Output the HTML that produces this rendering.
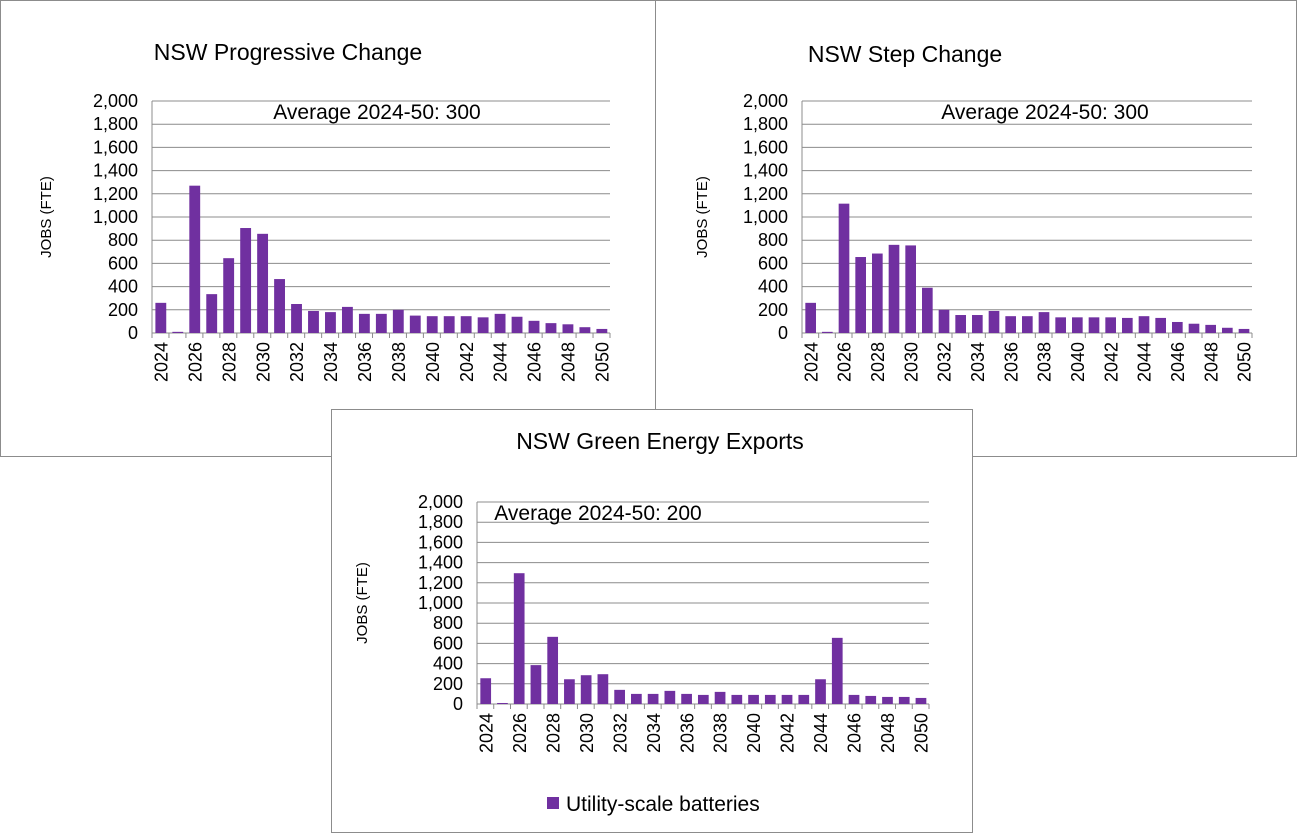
<!DOCTYPE html>
<html><head><meta charset="utf-8"><style>
body{margin:0;background:#fff;font-family:"Liberation Sans",sans-serif}
svg{display:block}
</style></head><body>
<svg id="s" width="1297" height="834"></svg>
<script>
const years = [];
for (let y = 2024; y <= 2050; y++) years.push(y);
const yTicks = [0,200,400,600,800,1000,1200,1400,1600,1800,2000];
const progressiveValues = [260,10,1270,335,645,905,855,465,250,190,180,225,165,165,200,150,145,145,145,135,165,140,105,85,75,50,35];
const stepValues = [260,10,1115,655,685,760,755,390,200,155,155,190,145,145,180,135,135,135,135,130,145,130,95,80,70,45,35];
const exportValues = [255,10,1295,385,665,245,285,295,140,100,100,130,100,90,120,90,90,90,90,90,245,655,90,80,70,70,60];

const NS = "http://www.w3.org/2000/svg";
const svg = document.getElementById('s');
function mk(tag, attrs, parent, text){
  const e = document.createElementNS(NS, tag);
  for (const k in attrs) e.setAttribute(k, attrs[k]);
  if (text !== undefined) e.textContent = text;
  (parent || svg).appendChild(e);
  return e;
}
function fmt(v){ return v.toLocaleString('en-US'); }

const panels = [
  {name:'progressive', box:[0.5,0.5,655,456], title:'NSW Progressive Change', tx:288, ty:60, x0:152, x1:610, y0:101, y1:333, avg:'Average  2024-50: 300', ax:377, ay:119, ytx:51, vals:progressiveValues},
  {name:'step', box:[655.5,0.5,641,456], title:'NSW Step Change', tx:905, ty:62, x0:802, x1:1252, y0:101, y1:333, avg:'Average  2024-50: 300', ax:1045, ay:119, ytx:707, vals:stepValues},
  {name:'exports', box:[331.5,409.5,641,423], title:'NSW Green Energy Exports', tx:660, ty:449, x0:477, x1:929, y0:502, y1:704, avg:'Average  2024-50: 200', ax:598, ay:520, ytx:367, vals:exportValues}
];

panels.forEach(p => {
  const g = mk('g', {});
  
  
  const r = mk('rect', {x:p.box[0], y:p.box[1], width:p.box[2], height:p.box[3], fill:'#fff', stroke:'#8c8c8c', 'stroke-width':1}, g);
  
  
  const t = mk('text', {x:p.tx, y:p.ty, 'text-anchor':'middle', 'font-size':23, fill:'#000'}, g, p.title);
  
  
  const ys = v => p.y1 - (v/2000)*(p.y1-p.y0);
  yTicks.forEach(v => {
    if (v > 0) mk('line', {x1:p.x0, x2:p.x1, y1:ys(v), y2:ys(v), stroke:'#8c8c8c', 'stroke-width':1}, g);
    const tl = mk('text', {x:p.x0-14, y:ys(v)+6, 'text-anchor':'end', 'font-size':18}, g, fmt(v));
    
    
  });
  mk('line', {x1:p.x0, x2:p.x0, y1:p.y0, y2:p.y1, stroke:'#8c8c8c'}, g);
  mk('line', {x1:p.x0, x2:p.x1, y1:p.y1, y2:p.y1, stroke:'#8c8c8c'}, g);
  const n = years.length, w = (p.x1-p.x0)/n;
  years.forEach((yr, i) => {
    mk('line', {x1:p.x0+i*w, x2:p.x0+i*w, y1:p.y1, y2:p.y1+5, stroke:'#8c8c8c'}, g);
    const v = p.vals[i];
    const b = mk('rect', {x:p.x0+i*w+w*0.2, y:ys(v), width:w*0.64, height:p.y1-ys(v), fill:'#7030a0'}, g);
    
    
    if (i % 2 === 0) {
      const cx = p.x0+i*w+w/2+7, cy = p.y1+9;
      const lt = mk('text', {x:cx, y:cy, 'text-anchor':'end', 'font-size':18, transform:`rotate(-90 ${cx} ${cy})`}, g, String(yr));
      
      
    }
  });
  mk('line', {x1:p.x1, x2:p.x1, y1:p.y1, y2:p.y1+5, stroke:'#8c8c8c'}, g);
  const a = mk('text', {x:p.ax, y:p.ay, 'text-anchor':'middle', 'font-size':21}, g, p.avg);
  
  
  const cy = (p.y0+p.y1)/2;
  const yt = mk('text', {x:p.ytx, y:cy, 'text-anchor':'middle', 'font-size':15, transform:`rotate(-90 ${p.ytx} ${cy})`}, g, 'JOBS (FTE)');
  
  
});

const lg = mk('g', {});


mk('rect', {x:547, y:797, width:12, height:12, fill:'#7030a0'}, lg);
mk('text', {x:566, y:811, 'font-size':21}, lg, 'Utility-scale batteries');
</script>
</body></html>
